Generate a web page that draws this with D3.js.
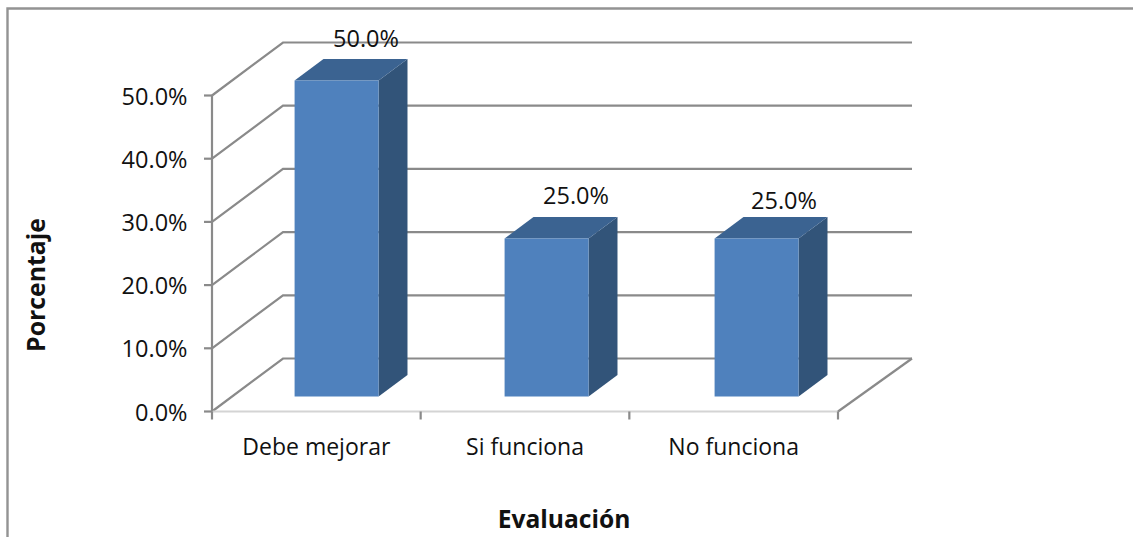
<!DOCTYPE html>
<html>
<head>
<meta charset="utf-8">
<script src="https://cdn.jsdelivr.net/npm/d3@7/dist/d3.min.js"></script>
<style>
html,body{margin:0;padding:0;background:#fff;overflow:hidden}
text{font-family:"Open Sans",sans-serif;fill:#111}
</style>
</head>
<body>
<script>
// Evaluation results, in percent
const categories = ["Debe mejorar", "Si funciona", "No funciona"];
const values = [50, 25, 25];
const yTicks = [0, 10, 20, 30, 40, 50];

const width = 1133, height = 537;
const svg = d3.select("body").append("svg").attr("width", width).attr("height", height).style("display", "block");

// Front-plane categories, and the slightly wider band the boxes sit on
const x = d3.scaleBand().domain(categories).range([212, 838]);
const xBar = d3.scaleBand().domain(categories).range([211.5, 841.5]);
const y = d3.scaleLinear().domain([0, 50]).range([411.5, 95.5]);
// Oblique projection of the chart depth: 0 is the front plane, 1 the back wall
const dx = d3.scaleLinear().domain([0, 1]).range([0, 71]);
const dy = d3.scaleLinear().domain([0, 1]).range([0, -53]);
const pt = (px, py, d) => [px + dx(d), py + dy(d)];
const line = d3.line();
const fmt = d3.format(".1f");

const gridCol = "#8a8a8a", axisCol = "#8a8a8a", floorCol = "#d4d4d4";

// Chart frame
svg.append("path").attr("d", "M7.5,537V8.5H1133").attr("fill", "none").attr("stroke", "#939393").attr("stroke-width", 2.4);

// Walls: side-wall diagonals joined to back-wall horizontals
const grid = svg.append("g").attr("fill", "none").attr("stroke", gridCol).attr("stroke-width", 2.2);
yTicks.forEach(t => {
  grid.append("path").attr("d", line([pt(212, y(t), 0), pt(212, y(t), 1), pt(841, y(t), 1)]));
});
// Floor, front edge and the right-hand diagonal
svg.append("path").attr("d", line([pt(212, y(0), 0), pt(838, y(0), 0)])).attr("fill", "none").attr("stroke", floorCol).attr("stroke-width", 2);
svg.append("path").attr("d", line([pt(838, y(0), 0), pt(841, y(0), 1)])).attr("fill", "none").attr("stroke", gridCol).attr("stroke-width", 2.2);

// Axes with ticks
svg.append("path").attr("d", line([[212, y(50)], [212, y(0)]])).attr("fill", "none").attr("stroke", axisCol).attr("stroke-width", 2.2);
const yAxis = svg.append("g");
yTicks.forEach(t => {
  yAxis.append("line").attr("x1", 204).attr("x2", 212).attr("y1", y(t)).attr("y2", y(t)).attr("stroke", axisCol).attr("stroke-width", 2.2);
  yAxis.append("text").attr("x", 187.5).attr("y", y(t) + 9).attr("text-anchor", "end").attr("font-size", 23.5).text(fmt(t) + "%");
});
const xTickPos = [...categories.map(c => x(c)), 838];
xTickPos.forEach(p => {
  svg.append("line").attr("x1", p).attr("x2", p).attr("y1", y(0)).attr("y2", y(0) + 8).attr("stroke", axisCol).attr("stroke-width", 2.2);
});
categories.forEach(c => {
  svg.append("text").attr("x", x(c) + x.bandwidth() / 2).attr("y", 455).attr("text-anchor", "middle").attr("font-size", 23).text(c);
});

// Bars drawn as three faces of a box
const barW = 84, d0 = 0.283, d1 = 0.69;
const barGroup = svg.append("g");
categories.forEach((c, i) => {
  const cx = xBar(c) + xBar.bandwidth() / 2;
  const l = cx - barW / 2, r = cx + barW / 2;
  const top = y(values[i]), bot = y(0);
  const g = barGroup.append("g");
  g.append("path").attr("fill", "#325479").attr("d", line([pt(r, bot, d0), pt(r, bot, d1), pt(r, top, d1), pt(r, top, d0)]) + "Z");
  g.append("path").attr("fill", "#3b6391").attr("d", line([pt(l, top, d0), pt(l, top, d1), pt(r, top, d1), pt(r, top, d0)]) + "Z");
  g.append("path").attr("fill", "#4f81bd").attr("d", line([pt(l, bot, d0), pt(r, bot, d0), pt(r, top, d0), pt(l, top, d0)]) + "Z");
});

// Value labels, floating above each box
const labelNudgeX = [0, 0, -2], labelNudgeY = [1, 0, 5];
categories.forEach((c, i) => {
  const cx = xBar(c) + xBar.bandwidth() / 2;
  const [px, py] = pt(cx, y(values[i]), d1);
  svg.append("text").attr("x", px + 0.5 + labelNudgeX[i]).attr("y", py - 13 + labelNudgeY[i]).attr("text-anchor", "middle").attr("font-size", 23.5).text(fmt(values[i]) + "%");
});

// Axis titles
svg.append("text").attr("transform", "translate(45,285) rotate(-90)").attr("text-anchor", "middle").attr("font-size", 24.8).attr("font-weight", 700).text("Porcentaje");
svg.append("text").attr("x", 564).attr("y", 528).attr("text-anchor", "middle").attr("font-size", 24.6).attr("font-weight", 700).text("Evaluación");
</script>
</body>
</html>
